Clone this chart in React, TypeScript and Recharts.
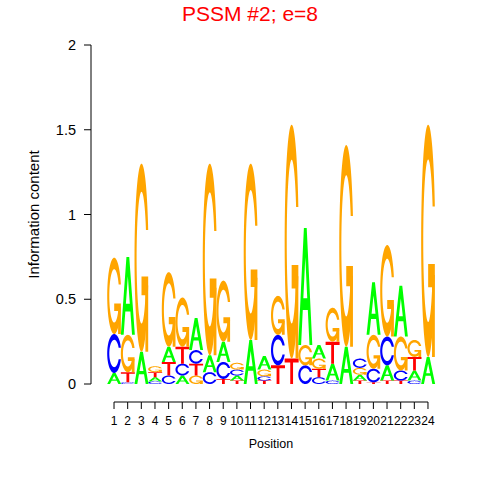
import React from 'react';
import { BarChart, Bar, XAxis, YAxis } from 'recharts';

// ---- data ----
const positions = ['1','2','3','4','5','6','7','8','9','10','11','12','13','14','15','16','17','18','19','20','21','22','23','24'];
const heightA = [0.065,0.46,0.19,0.025,0.09,0.05,0.19,0.10,0.12,0.03,0.26,0.08,0.00,0.00,0.69,0.08,0.10,0.22,0.035,0.31,0.09,0.30,0.06,0.16];
const heightC = [0.23,0.01,0.00,0.015,0.05,0.07,0.08,0.07,0.10,0.035,0.00,0.025,0.18,0.00,0.11,0.04,0.02,0.00,0.055,0.08,0.17,0.06,0.02,0.00];
const heightG = [0.45,0.22,1.11,0.035,0.44,0.29,0.05,1.13,0.36,0.04,1.04,0.04,0.23,1.38,0.12,0.06,0.20,1.19,0.04,0.20,0.54,0.20,0.10,1.37];
const heightT = [0.00,0.06,0.00,0.03,0.08,0.10,0.07,0.00,0.03,0.02,0.00,0.02,0.11,0.15,0.00,0.05,0.13,0.00,0.02,0.01,0.02,0.02,0.08,0.00];
const yTicks = [0, 0.5, 1, 1.5, 2];
const titleText = 'PSSM #2; e=8';
const xLabel = 'Position';
const yLabel = 'Information content';

const letters = ['A', 'C', 'G', 'T'];
const seriesByLetter: Record<string, number[]> = { A: heightA, C: heightC, G: heightG, T: heightT };

// rows: letters ranked by height (smallest at bottom)
const rows = positions.map((pos, i) => {
  const items = letters.map((l) => ({ l, v: seriesByLetter[l][i] })).sort((a, b) => a.v - b.v);
  const row: Record<string, any> = { pos };
  items.forEach((it, k) => {
    row['r' + k] = it.v;
    row['l' + k] = it.l;
  });
  return row;
});

// ---- layout / style ----
const W = 480, H = 480;
const PLOT_LEFT = 107.2, PLOT_RIGHT = 434.8, PLOT_TOP = 45, PLOT_BOTTOM = 384;
const BAND = (PLOT_RIGHT - PLOT_LEFT) / positions.length;
const X_AXIS_Y = 402;
const Y_AXIS_X = 91;
const TICK_LEN = 7;
const FONT = '"Liberation Sans", Arial, Helvetica, sans-serif';
const COLORS: Record<string, string> = { A: '#00ff00', C: '#0000ff', G: '#ffa500', T: '#ff0000' };

// ---- letter glyph geometry in unit box (y up) ----
const arcPts = (r: number, a0: number, a1: number, n: number) => {
  const pts: [number, number][] = [];
  for (let i = 0; i <= n; i++) {
    const a = a0 + ((a1 - a0) * i) / n;
    pts.push([0.5 + r * Math.cos(a), 0.5 + r * Math.sin(a)]);
  }
  return pts;
};
const toPath = (pts: [number, number][]) =>
  'M' + pts.map((p) => p[0].toFixed(4) + ',' + p[1].toFixed(4)).join('L') + 'Z';

const cOuterA = Math.atan2(0.148, 0.478);
const cInnerA = Math.asin(0.148 / 0.35);
const cPoly: [number, number][] = [
  ...arcPts(0.5, cOuterA, 2 * Math.PI - cOuterA, 80),
  ...arcPts(0.35, 2 * Math.PI - cInnerA, cInnerA, 80),
];
const GLYPHS: Record<string, string[]> = {
  A: [
    toPath([[0, 0], [0.4, 1], [0.6, 1], [1, 0], [0.8, 0], [0.68, 0.3], [0.32, 0.3], [0.2, 0]]) +
      toPath([[0.36, 0.4], [0.5, 0.75], [0.64, 0.4]]),
  ],
  C: [toPath(cPoly)],
  G: [
    toPath(cPoly),
    toPath([[0.978, 0.4], [0.5, 0.4], [0.5, 0.3], [0.778, 0.3], [0.778, 0], [0.978, 0]]),
  ],
  T: [toPath([[0, 1], [1, 1], [1, 0.85], [0.6, 0.85], [0.6, 0], [0.4, 0], [0.4, 0.85], [0, 0.85]])],
};

const makeLetterShape = (rank: number) => (props: any) => {
  const { x, y, width, height, payload } = props;
  if (!height || height <= 0) return <g />;
  const letter = payload['l' + rank];
  return (
    <g transform={`translate(${x},${y + height}) scale(${width},${-height})`}>
      {GLYPHS[letter].map((d, i) => (
        <path key={i} d={d} fill={COLORS[letter]} fillRule="evenodd" />
      ))}
    </g>
  );
};

const XTick = (props: any) => {
  const { x, payload, index } = props;
  return (
    <g>
      {index < positions.length - 1 && (
        <line x1={x} x2={x + BAND} y1={X_AXIS_Y} y2={X_AXIS_Y} stroke="#000" strokeWidth={1} />
      )}
      <line x1={x} x2={x} y1={X_AXIS_Y} y2={X_AXIS_Y + TICK_LEN} stroke="#000" strokeWidth={1} />
      <text x={x} y={X_AXIS_Y + 23} textAnchor="middle" fontSize={12} fontFamily={FONT} fill="#000">
        {payload.value}
      </text>
    </g>
  );
};

const YTick = (props: any) => {
  const { y, payload, index } = props;
  return (
    <g>
      {index === 0 && (
        <line x1={Y_AXIS_X} x2={Y_AXIS_X} y1={y} y2={y - (PLOT_BOTTOM - PLOT_TOP)} stroke="#000" strokeWidth={1} />
      )}
      <line x1={Y_AXIS_X} x2={Y_AXIS_X - TICK_LEN} y1={y} y2={y} stroke="#000" strokeWidth={1} />
      <text x={Y_AXIS_X - 15} y={y + 5} textAnchor="end" fontSize={14.5} fontFamily={FONT} fill="#000">
        {payload.value}
      </text>
    </g>
  );
};

export default function App() {
  return (
    <div style={{ position: 'absolute', left: 0, top: 0, width: W, height: H, background: '#fff' }}>
      <div
        style={{
          position: 'absolute',
          left: 0,
          width: 500,
          top: 2,
          textAlign: 'center',
          color: '#ff0000',
          fontFamily: FONT,
          fontSize: 21,
          lineHeight: '24px',
        }}
      >
        {titleText}
      </div>
      <BarChart
        width={W}
        height={H}
        data={rows}
        margin={{ top: PLOT_TOP, right: W - PLOT_RIGHT, bottom: 0, left: 0 }}
        barCategoryGap={0}
        barGap={0}
      >
        <XAxis
          dataKey="pos"
          height={H - PLOT_BOTTOM}
          interval={0}
          axisLine={false}
          tickLine={false}
          tick={<XTick />}
          label={{
            content: () => (
              <text x={(PLOT_LEFT + PLOT_RIGHT) / 2} y={448} textAnchor="middle" fontSize={12.5} fontFamily={FONT} fill="#000">
                {xLabel}
              </text>
            ),
          }}
        />
        <YAxis
          type="number"
          domain={[0, 2]}
          ticks={yTicks}
          width={PLOT_LEFT}
          axisLine={false}
          tickLine={false}
          tick={<YTick />}
          interval={0}
          label={{
            content: () => (
              <text
                x={39}
                y={(PLOT_TOP + PLOT_BOTTOM) / 2}
                transform={`rotate(-90 39 ${(PLOT_TOP + PLOT_BOTTOM) / 2})`}
                textAnchor="middle"
                fontSize={15}
                fontFamily={FONT}
                fill="#000"
              >
                {yLabel}
              </text>
            ),
          }}
        />
        {[0, 1, 2, 3].map((k) => (
          <Bar key={k} dataKey={'r' + k} stackId="s" isAnimationActive={false} shape={makeLetterShape(k)} />
        ))}
      </BarChart>
    </div>
  );
}
